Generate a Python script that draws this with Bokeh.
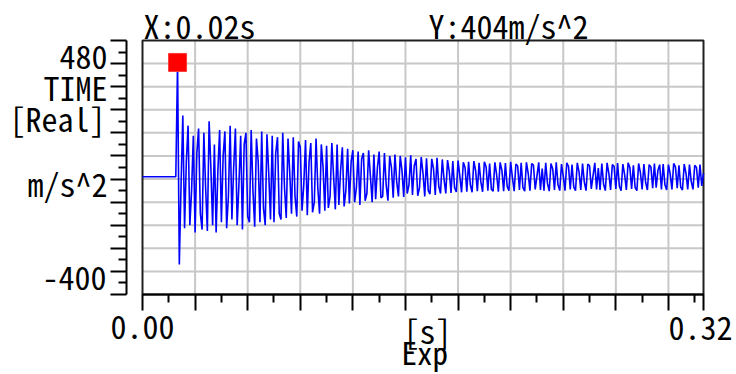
from bokeh.plotting import figure
from bokeh.models import Range1d, LinearAxis, FixedTicker, Label
from bokeh.embed import file_html
from bokeh.resources import INLINE

# ---------------- data ----------------
sample_interval = 0.001  # seconds between samples
accel = [
    8, 8, 8, 8, 8, 8, 8, 8, 8, 8,
    8, 8, 8, 8, 8, 8, 8, 8, 8, 8,
    404, -296,
    -20, 220, -170, 60, 185, -160, -40, 150, -185, 90,
    175, -120, -175, 160, -30, -180, 200, 40, -160, 120,
    -185, 30, 170, -150, 80, 165, -170, -60, 185, -140,
    40, 175, -160, -20, 150, -175, 120, 160, -130, -150,
    170, -40, -165, 140, 60, -150, 165, -100, -160, 155,
    20, -140, 150, -150, 90, 145, -120, -140, 160, -30,
    -135, 140, 20, -120, 145, -60, -130, 130, 110, -110,
    -20, 135, -125, 60, 125, -115, -80, 140, -30, -120,
    120, 40, -110, 115, -100, -60, 125, 10, -105, 120,
    -90, 30, 110, -95, -40, 105, -85, 60, 100, -80,
    -30, 95, -90, 70, 90, -75, -50, 100, 10, -80,
    85, -70, 40, 95, -65, -60, 90, -20, -75, 80,
    40, -65, 85, -10, -60, 80, 30, -62, 75, -50,
    -20, 82, -55, 45, 70, -58, -30, 76, 20, -60,
    72, -40, -52, 70, 35, -55, 74, -25, -50, 68,
    0, -50, 66, 25, -48, 62, -30, -45, 64, 10,
    -46, 58, 40, -44, 60, -20, -46, 62, 30, -42,
    56, -10, -44, 60, 42, -40, 54, -35, -42, 58,
    15, -44, 58, 30, -42, 55, -25, -40, 60, 5,
    -42, 52, 45, -38, 56, -30, -42, 58, 20, -40,
    54, 48, -36, 10, 58, -38, 36, -40, 56, -15,
    -42, 54, 35, -38, 58, -20, -40, 52, 10, -40,
    56, 44, -36, 50, -28, -40, 56, 25, -38, 54,
    -10, -40, 52, 46, -34, 12, 56, -36, 38, -38,
    54, -18, -40, 56, 20, -38, 50, 44, -34, 55,
    -25, -40, 52, 15, -38, 56, 40, -34, 48, -30,
    -40, 54, 22, -36, 52, -12, -38, 50, 42, -32,
    54, -30, 30, 50, -36, 52, -20, -38, 50, 18,
    -36, 54, 42, -32, 48, -28, -38, 52, 20, -36,
    50, -8, -36, 48, 40, -30, 50, -24, 20,
]
t = [i * sample_interval for i in range(len(accel))]

cursor_index = 20
cursor_text_x = "X:0.02s"
cursor_text_y = "Y:404m/s^2"

x_start, x_end = 0.0, 0.32
y_start, y_end = -400, 480

x_major_ticks = [0.0, 0.03, 0.06, 0.09, 0.12, 0.15, 0.18, 0.21, 0.24, 0.27, 0.30, 0.32]
x_minor_ticks = [0.015, 0.045, 0.075, 0.105, 0.135, 0.165, 0.195, 0.225, 0.255, 0.285, 0.315]
x_grid_ticks = [0.03, 0.06, 0.09, 0.12, 0.15, 0.18, 0.21, 0.24, 0.27, 0.30]
y_major_ticks = [-400, -320, -240, -160, -80, 0, 80, 160, 240, 320, 400, 480]
y_minor_ticks = [-360, -280, -200, -120, -40, 40, 120, 200, 280, 360, 440]
y_grid_ticks = [-320, -240, -160, -80, 0, 80, 160, 240, 320, 400]

y_labels = ["480", "TIME", "[Real]", "m/s^2", "-400"]
x_labels = ["0.00", "[s]", "0.32", "Exp"]

# ---------------- layout (canvas pixels) ----------------
W, H = 736, 374
FL, FR, FT, FB = 142, 703, 40, 294   # plotting box edges
YAXIS_PX = 126                        # detached y axis line

FONT = "'Noto Sans Mono CJK JP', 'DejaVu Sans Mono', monospace"
FS = "32px"

kx = (FR - FL) / (x_end - x_start)
ky = (FB - FT) / (y_end - y_start)


def to_data(px, py):
    return x_start + (px - FL) / kx, y_start + (FB - py) / ky


view_x0, view_y1 = to_data(0, 0)
view_x1, view_y0 = to_data(W, H)

p = figure(
    width=W, height=H,
    x_range=Range1d(view_x0, view_x1), y_range=Range1d(view_y0, view_y1),
    output_backend="svg", toolbar_location=None,
    x_axis_location=None, y_axis_location=None,
    min_border_left=0, min_border_right=0, min_border_top=0, min_border_bottom=0,
    background_fill_color="white", border_fill_color="white",
)
p.outline_line_color = None
p.xgrid.visible = False
p.ygrid.visible = False

# grid lines inside the plotting box
p.segment(x0=x_grid_ticks, x1=x_grid_ticks,
          y0=[y_start] * len(x_grid_ticks), y1=[y_end] * len(x_grid_ticks),
          line_color="#c8c8c8", line_width=2)
p.segment(x0=[x_start] * len(y_grid_ticks), x1=[x_end] * len(y_grid_ticks),
          y0=y_grid_ticks, y1=y_grid_ticks,
          line_color="#c8c8c8", line_width=2)

# box outline
p.quad(left=[x_start], right=[x_end], bottom=[y_start], top=[y_end],
       fill_color=None, line_color="#202020", line_width=2)

# signal
p.line(t, accel, line_color="#0000ff", line_width=1.6)
p.scatter([t[cursor_index]], [accel[cursor_index]], marker="square", size=18,
          fill_color="#ff0000", line_color="#ff3a3a", line_width=1)


def style_axis(ax):
    ax.axis_line_color = "#000000"
    ax.axis_line_width = 2
    ax.major_tick_line_color = "#000000"
    ax.minor_tick_line_color = "#000000"
    ax.major_tick_line_width = 2
    ax.minor_tick_line_width = 2
    ax.major_tick_in = 0
    ax.major_tick_out = 16
    ax.minor_tick_in = 0
    ax.minor_tick_out = 8
    ax.major_label_text_color = None
    ax.major_label_text_font_size = "1px"


# x axis on the bottom edge of the box
xa = LinearAxis(ticker=FixedTicker(ticks=x_major_ticks, minor_ticks=x_minor_ticks),
                fixed_location=y_start, bounds=(x_start, x_end))
style_axis(xa)
p.add_layout(xa, "below")

# detached y axis left of the box
ya = LinearAxis(ticker=FixedTicker(ticks=y_major_ticks, minor_ticks=y_minor_ticks),
                fixed_location=to_data(YAXIS_PX, 0)[0], bounds=(y_start, y_end))
style_axis(ya)
p.add_layout(ya, "left")


def add_text(text, px, py, align, size=FS):
    x, y = to_data(px, py)
    p.add_layout(Label(x=x, y=y, text=text, text_font=FONT, text_font_size=size,
                       text_align=align, text_baseline="middle", text_color="#000000"))


# cursor readouts
add_text(cursor_text_x, 143, 24, "left")
add_text(cursor_text_y, 428, 24, "left")

# y side texts
y_label_pos = [(107, 56), (107, 86), (105, 117), (107, 182), (106, 277)]
for txt, (px, py) in zip(y_labels, y_label_pos):
    add_text(txt, px, py, "right")

# x side texts
add_text(x_labels[0], 142, 326, "center")
add_text(x_labels[1], 403, 329, "left")
add_text(x_labels[2], 732, 327, "right")
add_text(x_labels[3], 401, 351, "left", "31px")

open("out.html", "w").write(file_html(p, INLINE))
